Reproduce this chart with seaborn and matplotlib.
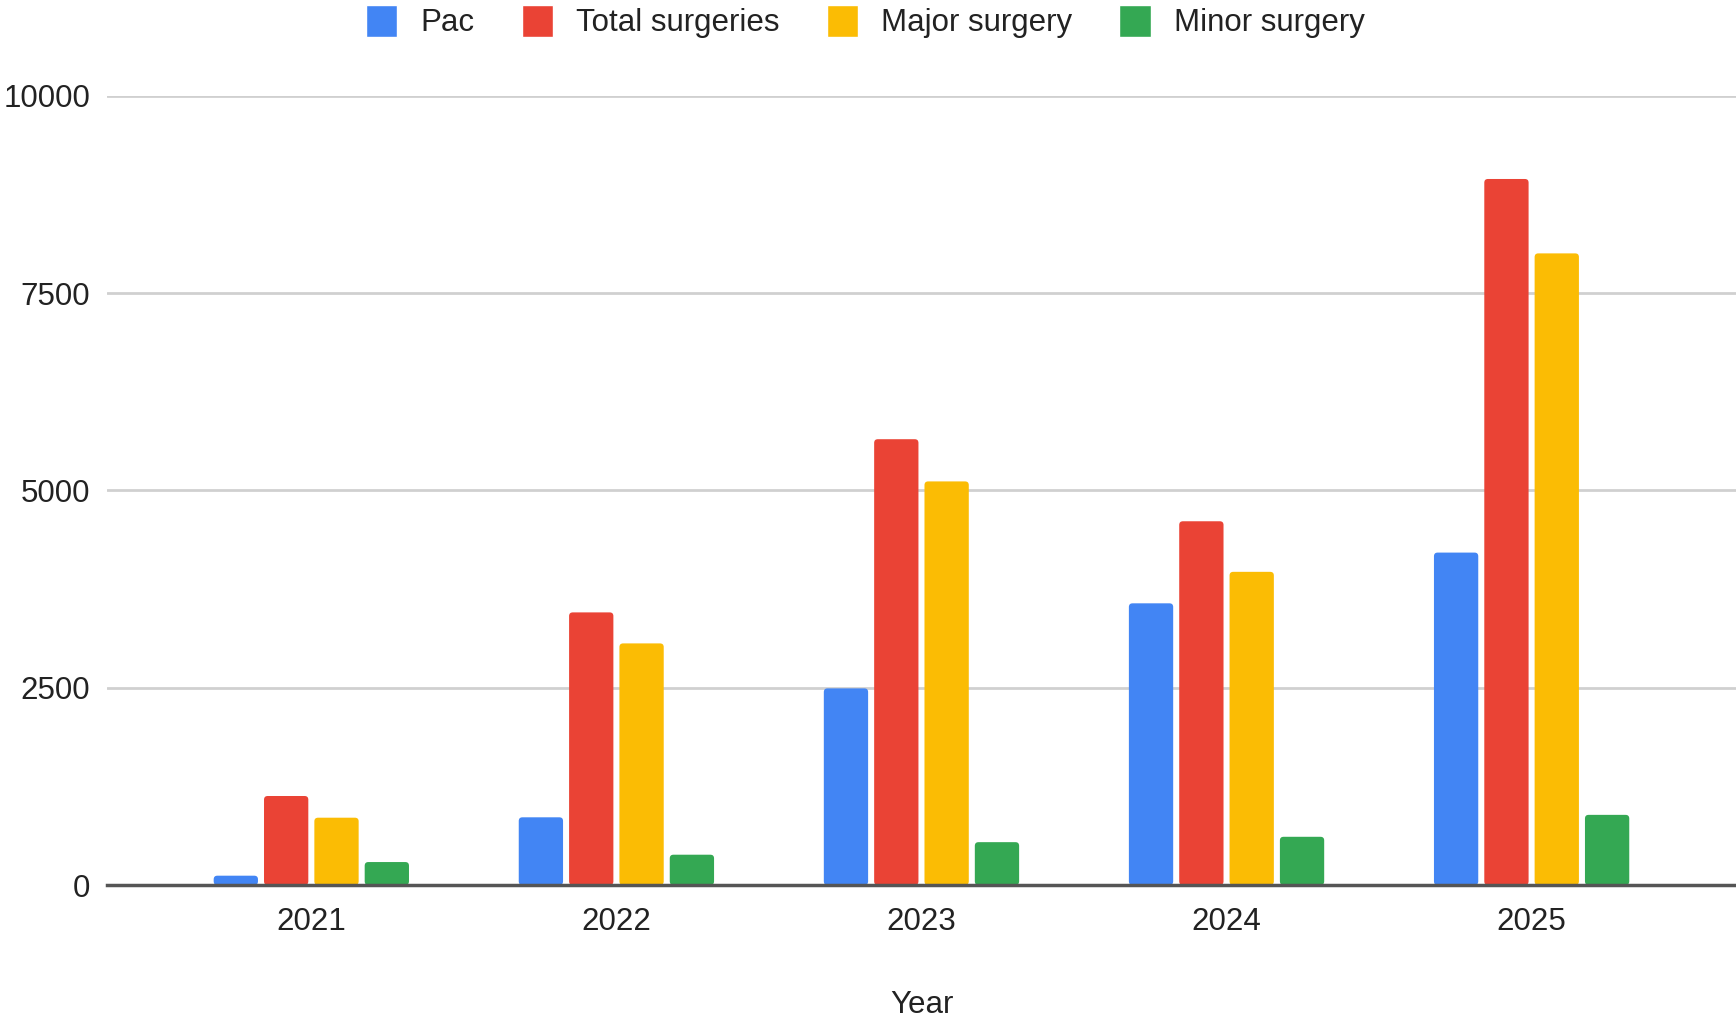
import matplotlib
matplotlib.use("Agg")
import matplotlib.pyplot as plt
import seaborn as sns
import pandas as pd
from matplotlib.patches import FancyBboxPatch

years = ["2021", "2022", "2023", "2024", "2025"]
series = ["Pac", "Total surgeries", "Major surgery", "Minor surgery"]
pac = [118, 858, 2492, 3570, 4213]
total = [1128, 3455, 5650, 4610, 8948]
major = [853, 3062, 5115, 3969, 8005]
minor = [291, 384, 543, 611, 889]
colors = ["#4285F4", "#EA4335", "#FBBC04", "#34A853"]

rows = []
for name, vals in zip(series, [pac, total, major, minor]):
    for y, v in zip(years, vals):
        rows.append({"Year": y, "Series": name, "Value": v})
df = pd.DataFrame(rows)

sns.set_theme(style="white")
plt.rcParams['font.family'] = ['Liberation Sans', 'DejaVu Sans']

FS = 22.5
fig = plt.figure(figsize=(17.36, 10.21), dpi=100)
ax = fig.add_axes([0.0616, 0.1332, 0.9384, 0.7728])

sns.barplot(data=df, x="Year", y="Value", hue="Series", hue_order=series,
            order=years, palette=colors, width=0.66, gap=0.12,
            saturation=1, ax=ax, legend=True, zorder=3)

# rounded bar corners
ax.set_ylim(0, 10000)
ax.set_xlim(-0.67, 4.67)
fig.canvas.draw()
bbox = ax.get_window_extent()
ppx = bbox.width / (4.67 + 0.67)      # pixels per x unit
ppy = bbox.height / 10000             # pixels per y unit
for p in list(ax.patches):
    if p.get_height() <= 0:
        continue
    x, y = p.get_x(), p.get_y()
    w, h = p.get_width(), p.get_height()
    fb = FancyBboxPatch((x, y), w, h,
                        boxstyle="round,pad=0,rounding_size=0.012",
                        mutation_aspect=ppx / ppy,
                        facecolor=p.get_facecolor(), edgecolor="none", zorder=3)
    p.set_visible(False)
    ax.add_patch(fb)

ax.set_yticks([0, 2500, 5000, 7500, 10000])
ax.grid(axis="y", color="#d0d0d0", linewidth=2, zorder=0)
for s in ["top", "right", "left"]:
    ax.spines[s].set_visible(False)
ax.spines["bottom"].set_color("#555555")
ax.spines["bottom"].set_linewidth(2.5)
ax.spines["bottom"].set_zorder(4)
ax.tick_params(axis="y", labelsize=FS, pad=12, length=0, colors="#222222")
ax.tick_params(axis="x", labelsize=FS, pad=16, length=0, colors="#222222")
ax.set_ylabel("")
ax.set_xlabel("Year", fontsize=FS, color="#222222", labelpad=38)

handles, labels = ax.get_legend_handles_labels()
ax.get_legend().remove()
fig.legend(handles, labels, loc="center", bbox_to_anchor=(0.4985, 0.979), ncol=4,
           frameon=False, fontsize=FS, handlelength=1.0, handleheight=1.2,
           handletextpad=0.75, columnspacing=1.5, labelcolor="#222222")

fig.savefig("out.png", dpi=100, facecolor="white")
